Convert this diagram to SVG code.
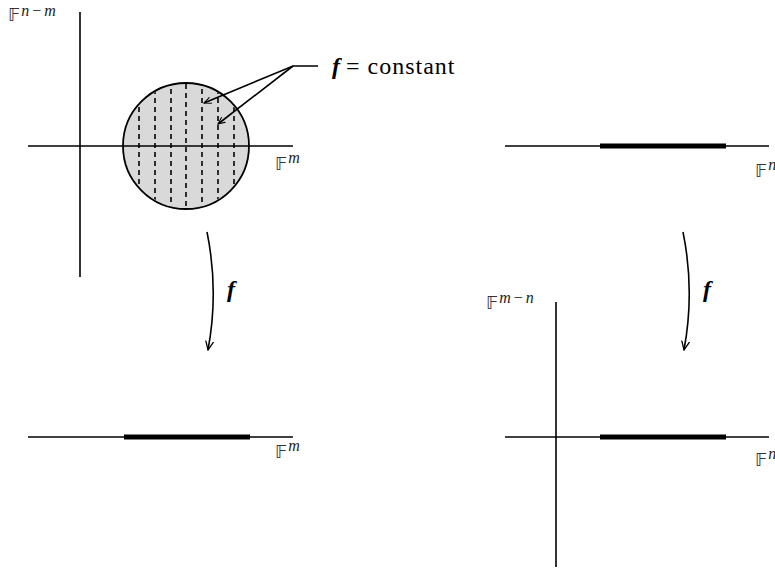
<svg xmlns="http://www.w3.org/2000/svg" width="775" height="573" viewBox="0 0 775 573">
<style>
.ax{stroke:#000;stroke-width:1.6;fill:none}
.thick{stroke:#000;stroke-width:5;fill:none}
.dash{stroke:#000;stroke-width:1.6;stroke-dasharray:5,4;fill:none}
text{font-family:'Liberation Serif','DejaVu Serif',serif}
.lbl{font-family:'DejaVu Sans',sans-serif;font-size:18px;fill:#333}
.sup{font-family:'Liberation Serif',serif;font-style:italic;font-size:16px;fill:#222}
.up{font-family:'Liberation Serif',serif;font-style:normal;font-size:16px;fill:#222}
.mi{font-family:'Liberation Serif',serif;font-style:italic;font-weight:bold;font-size:24px;fill:#000}
.txt{font-family:'Liberation Serif',serif;font-size:24px;fill:#000;letter-spacing:1px}
</style>
<defs>
<marker id="ah" viewBox="0 0 10 10" refX="9" refY="5" markerWidth="8" markerHeight="8" markerUnits="userSpaceOnUse" orient="auto">
<path d="M0,1 L9,5 L0,9" fill="none" stroke="#000" stroke-width="1.3"/>
</marker>
<marker id="ah2" viewBox="0 0 10 10" refX="9" refY="5" markerWidth="10" markerHeight="10" markerUnits="userSpaceOnUse" orient="auto">
<path d="M0,1 L9,5 L0,9" fill="none" stroke="#000" stroke-width="1.3"/>
</marker>
<clipPath id="cc"><circle cx="186" cy="146" r="62"/></clipPath>
</defs>

<g id="top-left">
<circle cx="186" cy="146" r="63" fill="#d9d9d9" stroke="#000" stroke-width="1.8"/>
<g clip-path="url(#cc)">
<line class="dash" x1="139" y1="80" x2="139" y2="212"/>
<line class="dash" x1="155" y1="80" x2="155" y2="212"/>
<line class="dash" x1="171" y1="80" x2="171" y2="212"/>
<line class="dash" x1="186" y1="84" x2="186" y2="212"/>
<line class="dash" x1="202" y1="80" x2="202" y2="212"/>
<line class="dash" x1="218" y1="80" x2="218" y2="212"/>
<line class="dash" x1="234" y1="80" x2="234" y2="212"/>
</g>
<line class="ax" x1="80" y1="12" x2="80" y2="277"/>
<line class="ax" x1="28" y1="146" x2="293" y2="146"/>
<text class="lbl" x="8" y="21">𝔽<tspan class="sup" dx="1" dy="-5">n</tspan><tspan class="up" dx="3">−</tspan><tspan class="sup" dx="3">m</tspan></text>
<text class="lbl" x="275" y="170">𝔽<tspan class="sup" dx="1" dy="-7">m</tspan></text>
</g>

<g id="label-constant">
<text x="332" y="74"><tspan class="mi">f</tspan><tspan class="txt" dx="6">= constant</tspan></text>
</g>

<g id="top-right">
<line class="ax" x1="505" y1="146" x2="769" y2="146"/>
<line class="thick" x1="600" y1="146" x2="726" y2="146"/>
<text class="lbl" x="755" y="177">𝔽<tspan class="sup" dx="1" dy="-7">n</tspan></text>
</g>

<g id="bottom-left">
<line class="ax" x1="28" y1="437" x2="293" y2="437"/>
<line class="thick" x1="124" y1="437" x2="250" y2="437"/>
<text class="lbl" x="275" y="458">𝔽<tspan class="sup" dx="1" dy="-7">m</tspan></text>
</g>

<g id="bottom-right">
<line class="ax" x1="556" y1="302" x2="556" y2="567"/>
<line class="ax" x1="505" y1="437" x2="769" y2="437"/>
<line class="thick" x1="600" y1="437" x2="726" y2="437"/>
<text class="lbl" x="486" y="309">𝔽<tspan class="sup" dx="1" dy="-6">m</tspan><tspan class="up" dx="3">−</tspan><tspan class="sup" dx="3">n</tspan></text>
<text class="lbl" x="755" y="466">𝔽<tspan class="sup" dx="1" dy="-7">n</tspan></text>
</g>

<g id="connectors">
<polyline class="ax" points="318,66 293,66 204,103" marker-end="url(#ah)"/>
<line class="ax" x1="293" y1="66" x2="218" y2="124" marker-end="url(#ah)"/>
<path class="ax" d="M207,232 Q219,291 208,350" marker-end="url(#ah2)"/>
<text class="mi" x="227" y="297">f</text>
<path class="ax" d="M683,232 Q695,291 684,350" marker-end="url(#ah2)"/>
<text class="mi" x="703" y="297">f</text>
</g>
</svg>
